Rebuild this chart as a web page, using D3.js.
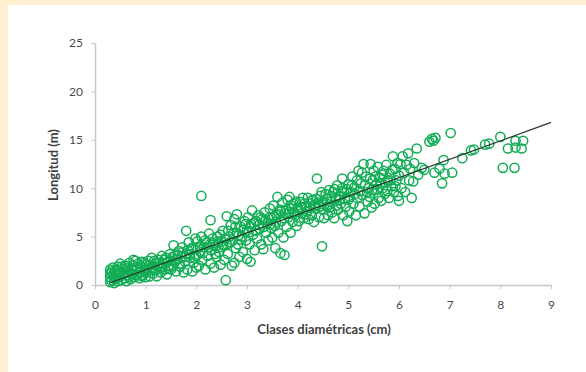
<!DOCTYPE html>
<html><head><meta charset="utf-8">
<script src="https://cdn.jsdelivr.net/npm/d3@7"></script>
<style>html,body{margin:0;padding:0;background:#fff}svg{display:block}</style>
</head><body><svg id="c" width="586" height="372"></svg>
<script>
const xTicks = [0,1,2,3,4,5,6,7,8,9];
const yTicks = [0,5,10,15,20,25];
const xTitle = "Clases diamétricas  (cm)";
const yTitle = "Longitud (m)";
const trendX = [0.3, 9];
const trendY = [0.23, 16.8];
const obs = [
[0.3,0.3],[0.3,0.8],[0.3,1.2],[0.3,1.6],[0.32,0.5],[0.35,1.0],[0.35,1.8],[0.38,0.2],[0.4,0.6],[0.4,1.4],[0.42,1.1],[0.45,0.4],[0.45,1.9],[0.48,0.8],[0.5,1.3],[0.5,2.2],[0.52,0.5],[0.55,1.0],[0.55,1.7],[0.58,0.7],[0.6,1.3],[0.6,2.0],[0.62,0.4],
[0.65,1.0],[0.65,1.6],[0.68,2.3],[0.7,0.6],[0.72,1.2],[0.75,2.0],[0.76,2.6],[0.78,0.8],[0.8,1.5],[0.8,2.5],[0.82,1.0],[0.85,2.2],[0.88,0.7],[0.9,1.3],[0.9,1.9],[0.92,2.4],[0.95,1.0],[0.98,1.6],[1.0,0.8],[1.0,2.1],
[0.33,1.4],[0.37,0.7],[0.43,1.6],[0.47,1.1],[0.53,1.9],[0.57,1.2],[0.63,1.8],[0.67,0.8],[0.73,1.6],[0.77,1.1],[0.83,1.8],[0.87,1.3],[0.93,0.9],[0.97,2.3],
[1.02,1.3],[1.05,2.5],[1.08,0.9],[1.1,1.8],[1.12,2.8],[1.15,1.2],[1.18,2.2],[1.2,1.5],[1.22,0.9],[1.25,2.6],[1.28,1.9],[1.3,1.3],[1.32,3.0],[1.35,2.2],[1.38,1.6],[1.4,2.8],[1.42,1.1],[1.45,2.0],[1.48,3.2],[1.5,1.6],[1.5,2.5],
[1.03,1.7],[1.07,2.0],[1.13,1.6],[1.17,2.5],[1.23,1.9],[1.27,2.3],[1.33,1.8],[1.37,2.6],[1.43,2.4],[1.47,1.7],
[1.55,4.1],[1.55,2.0],[1.58,3.0],[1.6,1.4],[1.62,2.6],[1.65,3.5],[1.68,1.9],[1.7,2.9],[1.72,3.9],[1.75,1.3],[1.78,2.4],[1.8,5.6],[1.8,3.2],[1.82,1.6],[1.85,4.4],[1.88,2.8],[1.9,3.7],[1.92,1.4],[1.95,2.3],[1.98,4.8],[2.0,3.0],[2.0,1.8],
[1.53,2.9],[1.57,2.4],[1.63,3.1],[1.67,2.2],[1.73,3.4],[1.77,2.9],[1.83,3.6],[1.87,3.2],[1.93,3.9],[1.97,2.8],
[2.02,4.5],[2.05,2.0],[2.08,3.4],[2.1,9.2],[2.1,5.0],[2.12,2.6],[2.15,3.9],[2.18,1.6],[2.2,4.4],[2.22,3.0],[2.25,5.3],[2.28,6.7],[2.28,2.2],[2.3,3.6],[2.32,4.8],[2.35,1.8],[2.38,4.0],[2.4,2.9],[2.42,5.0],[2.45,3.4],[2.48,2.1],[2.5,4.5],[2.5,3.9],
[2.03,3.8],[2.07,4.0],[2.13,3.3],[2.17,4.6],[2.23,3.9],[2.27,4.2],[2.33,4.3],[2.37,3.2],[2.43,4.5],[2.47,5.2],
[2.52,5.6],[2.55,2.6],[2.58,0.5],[2.6,4.2],[2.6,7.1],[2.62,3.2],[2.65,5.0],[2.68,6.2],[2.7,2.0],[2.72,4.6],[2.75,2.3],[2.75,6.8],[2.78,3.8],[2.8,5.4],[2.8,7.3],[2.82,4.2],[2.85,2.9],[2.88,6.0],[2.9,5.0],[2.92,3.4],[2.95,6.6],[2.98,4.6],[3.0,5.6],[3.0,2.7],
[2.53,4.1],[2.57,4.8],[2.63,5.6],[2.67,4.4],[2.73,5.3],[2.77,6.0],[2.83,5.1],[2.87,4.7],[2.93,5.7],[2.97,6.3],
[3.02,7.0],[3.05,4.2],[3.07,2.4],[3.08,6.3],[3.1,7.7],[3.12,5.2],[3.15,3.6],[3.18,6.6],[3.2,4.8],[3.22,7.2],[3.25,5.8],[3.28,4.2],[3.3,6.8],[3.32,3.7],[3.35,7.5],[3.38,5.4],[3.4,6.4],[3.42,4.6],[3.45,7.9],[3.48,5.9],[3.5,6.9],[3.5,4.9],
[3.03,5.4],[3.07,6.0],[3.13,6.4],[3.17,5.6],[3.23,6.2],[3.27,7.0],[3.33,6.0],[3.37,6.7],[3.43,6.9],[3.47,6.3],
[3.52,8.2],[3.55,6.1],[3.56,3.8],[3.58,7.2],[3.6,9.1],[3.62,5.4],[3.65,7.8],[3.66,3.3],[3.68,6.6],[3.7,8.5],[3.72,4.9],[3.74,3.1],[3.75,7.4],[3.78,6.0],[3.8,8.8],[3.82,7.0],[3.84,9.1],[3.86,5.4],[3.88,7.9],[3.9,6.5],[3.92,8.4],[3.95,7.2],[3.98,6.1],[4.0,8.0],
[3.53,7.1],[3.57,6.5],[3.63,7.3],[3.67,7.6],[3.73,6.9],[3.77,7.8],[3.83,7.5],[3.87,8.2],[3.93,7.5],[3.97,8.6],
[4.02,6.6],[4.05,8.6],[4.08,7.4],[4.1,9.0],[4.12,6.9],[4.15,8.1],[4.18,7.6],[4.2,9.0],[4.22,6.8],[4.25,8.4],[4.28,7.2],[4.3,8.8],[4.32,6.5],[4.35,7.9],[4.38,11.0],[4.4,8.5],[4.42,7.0],[4.45,9.2],[4.48,4.0],[4.5,7.8],[4.5,8.6],
[4.03,7.6],[4.07,8.0],[4.13,8.4],[4.17,7.3],[4.23,8.0],[4.27,8.7],[4.33,8.2],[4.37,8.9],[4.43,8.1],[4.47,9.6],
[4.52,6.9],[4.55,9.4],[4.58,8.1],[4.6,7.2],[4.62,9.8],[4.65,8.6],[4.68,7.5],[4.7,9.6],[4.72,6.9],[4.75,8.9],[4.78,10.3],[4.8,7.8],[4.82,9.2],[4.85,8.4],[4.88,11.0],[4.88,10.0],[4.9,7.2],[4.92,9.5],[4.95,8.1],[4.98,6.6],[5.0,10.4],[5.0,8.8],
[4.53,8.3],[4.57,8.9],[4.63,8.0],[4.67,9.2],[4.73,9.9],[4.77,8.2],[4.83,8.8],[4.87,9.7],[4.93,8.9],[4.97,9.9],
[5.02,7.6],[5.05,9.6],[5.08,11.2],[5.1,8.4],[5.12,10.1],[5.15,7.2],[5.18,9.0],[5.2,11.8],[5.22,8.1],[5.25,10.5],[5.28,9.3],[5.3,12.5],[5.32,7.4],[5.35,11.2],[5.38,8.6],[5.4,10.0],[5.42,9.1],[5.44,12.5],[5.46,8.0],[5.48,10.8],[5.5,11.8],[5.5,9.5],
[5.03,9.1],[5.07,10.3],[5.13,9.4],[5.17,10.8],[5.23,9.7],[5.27,11.6],[5.33,10.3],[5.37,9.6],[5.43,11.0],[5.47,9.8],
[5.52,8.4],[5.55,10.4],[5.58,12.2],[5.6,9.0],[5.62,11.1],[5.65,8.7],[5.68,10.0],[5.7,11.8],[5.72,9.4],[5.75,12.4],[5.78,10.8],[5.8,9.0],[5.82,11.5],[5.85,10.2],[5.88,13.3],[5.9,9.6],[5.92,12.0],[5.95,10.8],[5.98,9.2],[6.0,8.7],[6.0,11.3],
[5.53,11.2],[5.57,9.9],[5.63,10.5],[5.67,11.4],[5.73,10.6],[5.77,9.7],[5.83,10.8],[5.87,11.9],[5.93,10.2],[5.97,12.6],
[6.03,12.5],[6.05,10.0],[6.07,13.3],[6.1,11.6],[6.12,9.6],[6.15,12.4],[6.18,13.6],[6.2,10.8],[6.22,12.0],[6.25,9.0],[6.28,10.7],[6.3,12.6],[6.35,14.1],[6.38,11.4],[6.45,12.1],[6.5,11.9],
[6.6,14.8],[6.65,15.1],[6.68,14.9],[6.7,11.6],[6.72,15.2],[6.8,12.0],[6.85,10.5],[6.88,12.9],[6.9,11.5],[7.02,15.7],[7.05,11.6],
[7.25,13.1],[7.42,13.9],[7.48,14.0],[7.7,14.5],[7.78,14.6],[8.0,15.3],[8.05,12.1],[8.15,14.1],[8.28,12.1],[8.3,14.2],[8.3,14.9],[8.42,14.1],[8.45,14.9]
];

const svg = d3.select("#c");
svg.append("rect").attr("width",586).attr("height",372).attr("fill","#fff0d2");
svg.append("rect").attr("x",8).attr("y",5).attr("width",578).attr("height",367).attr("fill","#ffffff");

const x = d3.scaleLinear().domain([0,9]).range([95,551]);
const y = d3.scaleLinear().domain([0,25]).range([285,43]);

const font = "Lato, 'Open Sans', sans-serif";

const gx = svg.append("g").attr("transform","translate(0,285)")
  .call(d3.axisBottom(x).tickValues(xTicks).tickSize(4).tickSizeOuter(0).tickPadding(11).tickFormat(d3.format("d")));
const gy = svg.append("g").attr("transform","translate(95,0)")
  .call(d3.axisLeft(y).tickValues(yTicks).tickSize(4).tickSizeOuter(0).tickPadding(8).tickFormat(d3.format("d")));
[gx,gy].forEach(g=>{
  g.select(".domain").attr("stroke","#c8c8c8").attr("stroke-width",1.5);
  g.selectAll(".tick line").attr("stroke","#c8c8c8").attr("stroke-width",1);
  g.selectAll(".tick text").attr("fill","#4a4a4a").style("font-family",font).style("font-size","12px");
});

svg.append("g").selectAll("circle").data(obs).join("circle")
  .attr("cx",d=>x(d[0])).attr("cy",d=>y(d[1])).attr("r",4.6)
  .attr("fill","none").attr("stroke","#12ad55").attr("stroke-width",1.5);

svg.append("line")
  .attr("x1",x(trendX[0])).attr("y1",y(trendY[0]))
  .attr("x2",x(trendX[1])).attr("y2",y(trendY[1]))
  .attr("stroke","#26382c").attr("stroke-width",1.2);

svg.append("text").attr("x",324).attr("y",334).attr("text-anchor","middle")
  .style("font-family",font).style("font-size","13px").style("font-weight","bold").attr("fill","#404040")
  .text(xTitle);
svg.append("text").attr("transform","translate(58,165) rotate(-90)").attr("text-anchor","middle")
  .style("font-family",font).style("font-size","13px").style("font-weight","bold").attr("fill","#404040")
  .text(yTitle);
</script></body></html>
